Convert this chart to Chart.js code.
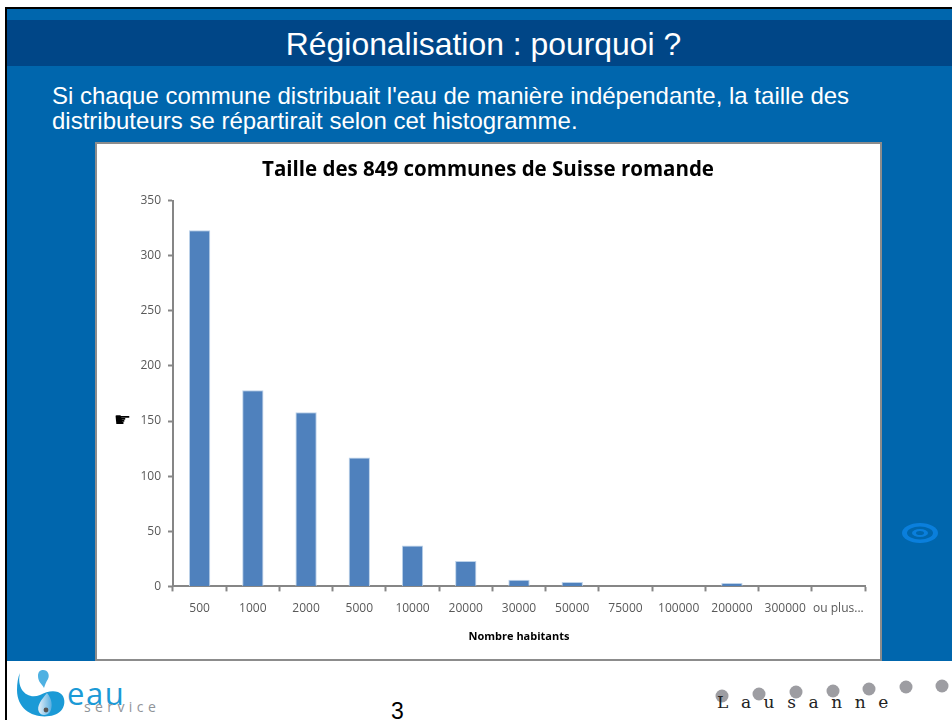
<!DOCTYPE html>
<html lang="fr">
<head>
<meta charset="utf-8">
<title>Régionalisation : pourquoi ?</title>
<script src="https://cdn.jsdelivr.net/npm/chart.js@4/dist/chart.umd.min.js"></script>
<style>
    html, body { margin: 0; padding: 0; background: #fff; }
    #slide { position: relative; width: 952px; height: 720px; overflow: hidden; font-family: "Liberation Sans", sans-serif; }
    #slide div, #slide svg, #slide span { position: absolute; }
    #edgeTop { left: 5px; top: 7px; width: 947px; height: 2px; background: #000; }
    #edgeLeft { left: 5px; top: 7px; width: 2px; height: 713px; background: #000; }
    #blue { left: 7px; top: 9px; width: 945px; height: 652px; background: #0066ad; }
    #band { left: 7px; top: 20px; width: 945px; height: 46px; background: #004687; }
    #heading { left: 7px; top: 20px; width: 953px; height: 46px; line-height: 48px; text-align: center; color: #fff; font-size: 31.9px; white-space: nowrap; }
    #intro { left: 52px; top: 83px; width: 880px; color: #fff; font-size: 24px; line-height: 25px; }
    #panel { left: 95px; top: 142px; width: 783px; height: 515px; background: #fff; border: 2px solid #8c8c8c; }
    #chartBox { left: 95px; top: 142px; width: 786px; height: 518px; }
    #yTitle { left: 114px; top: 408px; font-family: "DejaVu Sans", sans-serif; font-size: 19px; color: #000; }
    #pageNo { left: 391px; top: 698px; font-size: 23px; color: #000; }
    #town { left: 717px; top: 692px; font-family: "DejaVu Serif", serif; font-size: 17px; letter-spacing: 12.6px; color: #222; white-space: nowrap; }
    #eau { left: 67px; top: 675px; font-family: "Open Sans", sans-serif; font-size: 31px; letter-spacing: 1.6px; color: #1b9ad6; line-height: 36px; }
    #service { left: 84px; top: 698px; font-family: "Open Sans", sans-serif; font-size: 14px; letter-spacing: 4.4px; color: #8f9499; line-height: 18px; }
</style>
</head>
<body>
<div id="slide">
    <div id="edgeTop"></div>
    <div id="edgeLeft"></div>
    <div id="blue"></div>
    <div id="band"></div>
    <div id="heading">Régionalisation : pourquoi ?</div>
    <div id="intro">Si chaque commune distribuait l'eau de manière indépendante, la taille des<br>distributeurs se répartirait selon cet histogramme.</div>
    <div id="panel"></div>
    <div id="chartBox"><canvas id="tailleChart" width="786" height="518"></canvas></div>
    <span id="yTitle">☛</span>

    <!-- ripple on the right -->
    <svg style="left:900px;top:520px" width="40" height="26" viewBox="0 0 40 26">
        <ellipse cx="20" cy="13" rx="18" ry="10" fill="#0a7fdc"/>
        <ellipse cx="20" cy="13" rx="13" ry="6.5" fill="#0066ad"/>
        <ellipse cx="20" cy="13" rx="8" ry="4" fill="#0a7fdc"/>
        <ellipse cx="20" cy="13" rx="4" ry="2" fill="#0066ad"/>
    </svg>

    <!-- eau service logo -->
    <svg style="left:14px;top:666px" width="56" height="54" viewBox="0 0 56 54">
        <defs>
            <linearGradient id="dropFill" x1="0" y1="0" x2="1" y2="0">
                <stop offset="0" stop-color="#e4eff8"/>
                <stop offset="1" stop-color="#58aee0"/>
            </linearGradient>
        </defs>
        <path d="M6 7 C2 24 14 34 26 29 C32 26 38 24 44 26 C54 30 52 46 40 49 C24 54 3 46 3 24 C3 17 4 11 6 7 Z" fill="#1b9ad6"/>
        <path d="M29 4 C34 4 36 9 34 13 C32 16 31 19 30 22 C28 18 24 16 24 10 C24 6 26 4 29 4 Z" fill="#4fb1e2"/>
        <path d="M33 27 C38 33 39 40 36 46 C33 50 27 50 25 46 C22 40 28 33 33 27 Z" fill="url(#dropFill)"/>
        <circle cx="32" cy="44" r="2.4" fill="#555"/>
    </svg>
    <span id="eau">eau</span>
    <span id="service">service</span>

    <span id="pageNo">3</span>

    <!-- Lausanne dots -->
    <svg style="left:710px;top:675px" width="242" height="32" viewBox="0 0 242 32">
        <circle cx="12" cy="21" r="6.5" fill="#9d9da2"/>
        <circle cx="49" cy="19" r="6.5" fill="#9d9da2"/>
        <circle cx="86" cy="17" r="6.5" fill="#9d9da2"/>
        <circle cx="123" cy="16" r="6.5" fill="#9d9da2"/>
        <circle cx="159" cy="14" r="6.5" fill="#9d9da2"/>
        <circle cx="196" cy="12" r="6.5" fill="#9d9da2"/>
        <circle cx="232" cy="11" r="6.5" fill="#9d9da2"/>
    </svg>
    <span id="town">Lausanne</span>
</div>

<script>
const categories = ["500", "1000", "2000", "5000", "10000", "20000", "30000", "50000", "75000", "100000", "200000", "300000", "ou plus..."];
const communes = [323, 178, 158, 117, 37, 23, 6, 4, 0, 0, 3, 0, 0];
const yTicks = [0, 50, 100, 150, 200, 250, 300, 350];

const chartTitle = "Taille des 849 communes de Suisse romande";
const xTitle = "Nombre habitants";

const axisColor = "#868686";
const tickFont = { family: "Open Sans", size: 12 };

const ctx = document.getElementById("tailleChart").getContext("2d");

new Chart(ctx, {
    type: "bar",
    data: {
        labels: categories,
        datasets: [{
            label: "Communes",
            data: communes,
            backgroundColor: "#4f81bd",
            borderColor: "#bcd2ea",
            borderWidth: { top: 1, left: 1, right: 1, bottom: 0 },
            categoryPercentage: 1,
            barPercentage: 0.4
        }]
    },
    options: {
        responsive: false,
        animation: false,
        layout: { padding: { left: 16, right: 16, top: 0, bottom: 0 } },
        plugins: {
            legend: { display: false },
            tooltip: { enabled: false },
            title: {
                display: true,
                text: chartTitle,
                color: "#000",
                font: { family: "Open Sans", size: 20.5, weight: "bold" },
                padding: { top: 16, bottom: 18 }
            }
        },
        scales: {
            x: {
                offset: true,
                border: { color: axisColor, width: 2 },
                grid: { display: true, offset: true, drawOnChartArea: false, color: axisColor, tickLength: 5, tickWidth: 2 },
                ticks: { color: "#595959", font: tickFont, padding: 10, maxRotation: 0, autoSkip: false },
                title: { display: true, text: xTitle, color: "#000", font: { family: "Open Sans", size: 11, weight: "bold" }, padding: { top: 4, bottom: 17 } }
            },
            y: {
                min: 0,
                max: 350,
                afterFit: scale => { scale.width = 62; },
                afterBuildTicks: scale => { scale.ticks = yTicks.map(v => ({ value: v })); },
                border: { color: axisColor, width: 2 },
                grid: { display: true, drawOnChartArea: false, color: axisColor, tickLength: 5, tickWidth: 2 },
                ticks: { color: "#595959", font: tickFont, padding: 7 }
            }
        }
    }
});
</script>
</body>
</html>
